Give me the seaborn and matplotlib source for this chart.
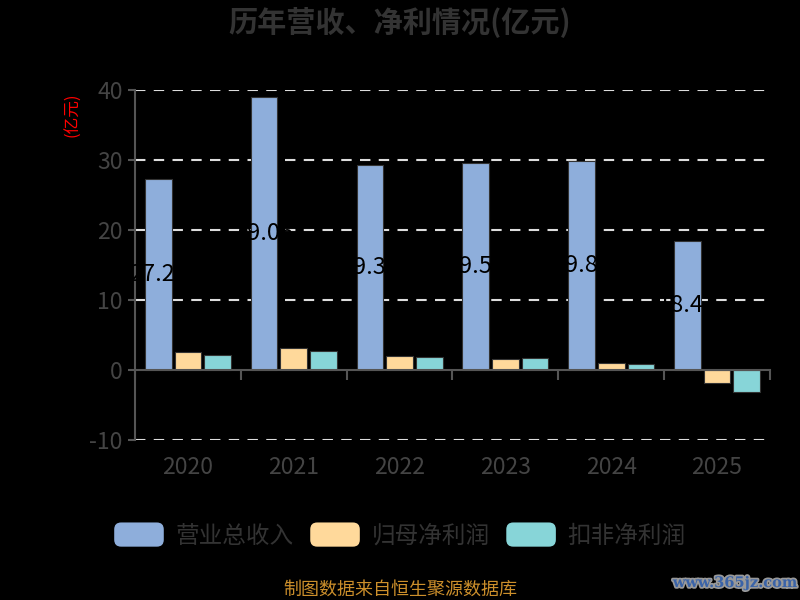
import numpy as np
import pandas as pd
import matplotlib
matplotlib.use('Agg')
import matplotlib.pyplot as plt
import matplotlib.patheffects as pe
from matplotlib.patches import Patch, FancyBboxPatch
from matplotlib.legend_handler import HandlerPatch
import seaborn as sns

# 数据（亿元）
years = ['2020', '2021', '2022', '2023', '2024', '2025']
series_names = ['营业总收入', '归母净利润', '扣非净利润']
revenue = [27.27, 39.06, 29.35, 29.58, 29.86, 18.47]
net_profit = [2.53, 3.19, 1.95, 1.57, 1.00, -1.90]
deducted_profit = [2.10, 2.76, 1.86, 1.71, 0.86, -3.14]
colors = ['#8eaedb', '#ffd99b', '#87d5d8']
y_ticks = [-10, 0, 10, 20, 30, 40]

df = pd.DataFrame({
    'year': years * 3,
    'series': [s for s in series_names for _ in years],
    'value': revenue + net_profit + deducted_profit,
})

sns.set_theme(style='ticks')
plt.rcParams['font.family'] = ['Noto Sans CJK SC', 'DejaVu Sans']
plt.rcParams['axes.unicode_minus'] = False

fig = plt.figure(figsize=(8, 6), dpi=100, facecolor='black')
ax = fig.add_axes([0.16875, 0.2667, 0.79375, 0.5833])
ax.set_facecolor('black')

sns.barplot(data=df, x='year', y='value', hue='series', order=years,
            hue_order=series_names, palette=colors, saturation=1, width=0.84, gap=0.1,
            edgecolor='#333333', linewidth=0.8, legend=False, ax=ax, zorder=2)

# 网格线
ax.set_ylim(-10, 40)
ax.set_yticks(y_ticks)
for t in y_ticks:
    if t != 0:
        ax.axhline(t, color='#dddddd', lw=1.5, linestyle=(0, (5, 4)), zorder=1)

# 坐标轴
for side in ['top', 'right']:
    ax.spines[side].set_visible(False)
ax.spines['left'].set_color('#555555')
ax.spines['left'].set_linewidth(1.5)
ax.spines['bottom'].set_position(('data', 0))
ax.spines['bottom'].set_color('#555555')
ax.spines['bottom'].set_linewidth(1.5)
ax.spines['bottom'].set_zorder(4)

ax.set_xticks(np.arange(-0.5, len(years), 1), minor=True)
ax.tick_params(axis='x', which='minor', length=7, width=1.5, color='#555555', direction='out')
ax.tick_params(axis='x', which='major', length=0, pad=62, labelsize=16.5, labelcolor='#444444')
ax.tick_params(axis='y', length=5, width=1.5, color='#555555', labelsize=16.5,
               labelcolor='#444444', pad=4)
ax.set_xlabel('')
ax.set_ylabel('')

# 数值标签（营业总收入）
for bar, v in zip(ax.containers[0], revenue):
    ax.text(bar.get_x() + bar.get_width() / 2, bar.get_height() / 2, f'{v:.2f}',
            ha='center', va='center', fontsize=17, color='#000000', zorder=3)

fig.text(0.091, 0.808, '(亿元)', rotation=90, ha='center', va='center',
         fontsize=12, color='#ff0000')

fig.text(0.5, 1 - 22 / 600, '历年营收、净利情况(亿元)', ha='center', va='center',
         fontsize=21, fontweight='bold', color='#333333')


class RoundHandler(HandlerPatch):
    def create_artists(self, legend, orig_handle, xdescent, ydescent, width, height, fontsize, trans):
        p = FancyBboxPatch((-xdescent, -ydescent), width, height,
                           boxstyle='round,pad=0,rounding_size=5',
                           facecolor=orig_handle.get_facecolor(), edgecolor='none', transform=trans)
        return [p]


handles = [Patch(facecolor=c, label=s) for c, s in zip(colors, series_names)]
leg = fig.legend(handles=handles, loc='center', bbox_to_anchor=(0.5, 1 - 535 / 600), ncol=3,
                 frameon=False, fontsize=17, handlelength=2.1, handleheight=1.2,
                 handletextpad=0.5, columnspacing=0.7,
                 handler_map={Patch: RoundHandler()})
for t in leg.get_texts():
    t.set_color('#333333')

fig.text(0.5, 1 - 590 / 600, '制图数据来自恒生聚源数据库', ha='center', va='center',
         fontsize=13, color='#cc8f2b')
fig.text(0.919, 1 - 583 / 600, 'www.365jz.com', ha='center', va='center',
         fontsize=10.5, fontweight='bold', family='DejaVu Serif', color='#3a63a8',
         path_effects=[pe.withStroke(linewidth=2.5, foreground='#999999')])

fig.savefig('out.png', dpi=100, facecolor='black')
